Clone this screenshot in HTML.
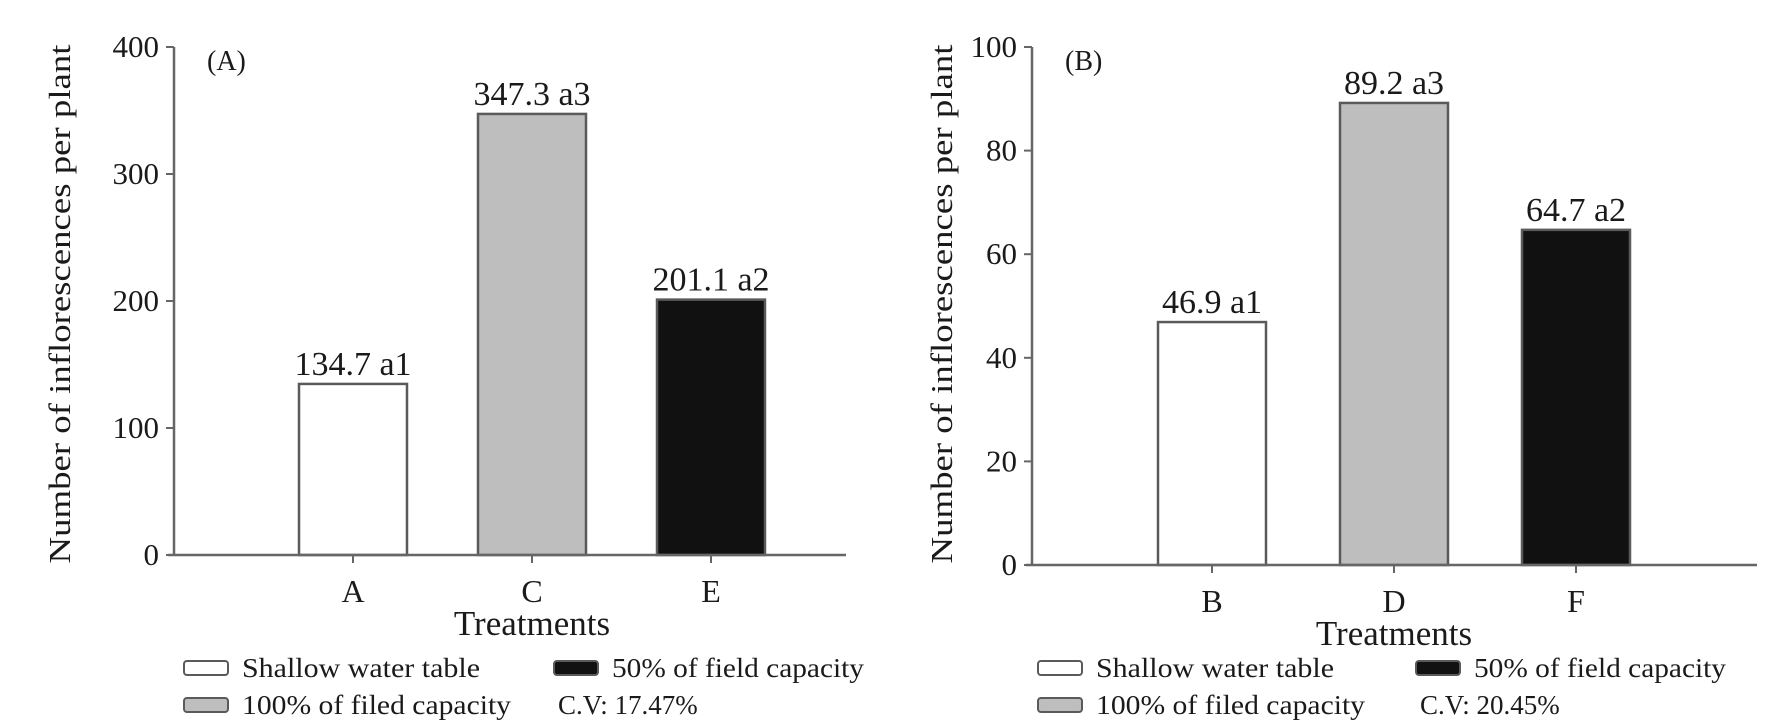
<!DOCTYPE html>
<html><head><meta charset="utf-8"><style>
html,body{margin:0;padding:0;background:#fff;}
svg{display:block;font-family:"Liberation Serif",serif;fill:#1a1a1a;}
</style></head><body>
<svg id="fig" width="1770" height="726" viewBox="0 0 1770 726" xmlns="http://www.w3.org/2000/svg"></svg>
<script>
const categoriesA = ["A","C","E"];
const valuesA = [134.7, 347.3, 201.1];
const letterA = ["a1","a3","a2"];
const ticksA = [0,100,200,300,400];
const categoriesB = ["B","D","F"];
const valuesB = [46.9, 89.2, 64.7];
const letterB = ["a1","a3","a2"];
const ticksB = [0,20,40,60,80,100];
const fills = ["#ffffff","#bebebe","#111111"];
const legendLabels = ["Shallow water table","100% of filed capacity","50% of field capacity"];
const cvA = "C.V: 17.47%";
const cvB = "C.V: 20.45%";

const NS="http://www.w3.org/2000/svg";
const svg=document.getElementById('fig');
function mk(tag,attrs,parent){const e=document.createElementNS(NS,tag);for(const k in attrs)e.setAttribute(k,attrs[k]);(parent||svg).appendChild(e);return e;}

function panel(o){
  const g=mk('g',{});
  
  
  const maxV=o.ticks[o.ticks.length-1];
  const y=v=>o.y0-(v/maxV)*(o.y0-o.yTop);
  const x=i=>o.firstCenter+i*o.spacing;
  o.cats.forEach((c,i)=>{
    const r=mk('rect',{x:x(i)-54,y:y(o.vals[i]),width:108,height:o.y0-y(o.vals[i]),fill:fills[i],stroke:'#5a5a5a','stroke-width':2.5},g);
    
    
    const t=mk('text',{x:x(i),y:y(o.vals[i])-9,'font-size':34,'text-anchor':'middle'},g);
    t.textContent=o.vals[i].toFixed(1)+' '+o.letters[i];
    
    
    mk('line',{x1:x(i),x2:x(i),y1:o.y0,y2:o.y0+8,stroke:'#666','stroke-width':2},g);
    const cl=mk('text',{x:x(i),y:o.y0+47,'font-size':32,'text-anchor':'middle'},g);
    cl.textContent=c;
    
    
  });
  const ya=mk('line',{x1:o.ax,x2:o.ax,y1:o.yTop,y2:o.y0,stroke:'#666','stroke-width':2.5},g);
  
  
  const xa=mk('line',{x1:o.ax-6,x2:o.xEnd,y1:o.y0,y2:o.y0,stroke:'#666','stroke-width':2.5},g);
  
  
  o.ticks.forEach(t=>{
    mk('line',{x1:o.ax-8,x2:o.ax,y1:y(t),y2:y(t),stroke:'#666','stroke-width':2},g);
    const tl=mk('text',{x:o.ax-15,y:y(t)+10,'font-size':31,'text-anchor':'end'},g);
    tl.textContent=t;
    
    
  });
  const pl=mk('text',{x:o.ax+33,y:o.yTop+23,'font-size':28},g);
  pl.textContent=o.panelLabel;
  
  
  const yt=mk('text',{x:0,y:0,'font-size':31,'text-anchor':'middle',transform:`translate(${o.titleX},${o.titleY}) rotate(-90)`,textLength:519,lengthAdjust:'spacingAndGlyphs'},g);
  yt.textContent='Number of inflorescences per plant';
  
  
  const xt=mk('text',{x:x(1),y:o.y0+80,'font-size':35,'text-anchor':'middle'},g);
  xt.textContent='Treatments';
  
  
  const lg=mk('g',{},g);
  
  
  const pos=[[o.lx1,668,238],[o.lx1,705,269],[o.lx2,668,252]];
  legendLabels.forEach((lab,i)=>{
    const [lx,ly,w]=pos[i];
    const e=mk('g',{},lg);
    
    
    mk('rect',{x:lx,y:ly-7,width:44,height:14,rx:3,fill:fills[i],stroke:'#5a5a5a','stroke-width':2},e);
    const t=mk('text',{x:lx+58,y:ly+9,'font-size':27,textLength:w,lengthAdjust:'spacingAndGlyphs'},e);
    t.textContent=lab;
  });
  const cv=mk('text',{x:o.lx2+4,y:714,'font-size':27},lg);
  cv.textContent=o.cv;
  
  
}
panel({name:'chart-a',cats:categoriesA,vals:valuesA,letters:letterA,ticks:ticksA,ax:174,y0:555,yTop:47,firstCenter:353,spacing:179,xEnd:846,panelLabel:'(A)',titleX:70,titleY:304,lx1:184,lx2:554,cv:cvA});
panel({name:'chart-b',cats:categoriesB,vals:valuesB,letters:letterB,ticks:ticksB,ax:1032,y0:565,yTop:47,firstCenter:1212,spacing:182,xEnd:1757,panelLabel:'(B)',titleX:952,titleY:304,lx1:1038,lx2:1416,cv:cvB});
</script>
</body></html>
